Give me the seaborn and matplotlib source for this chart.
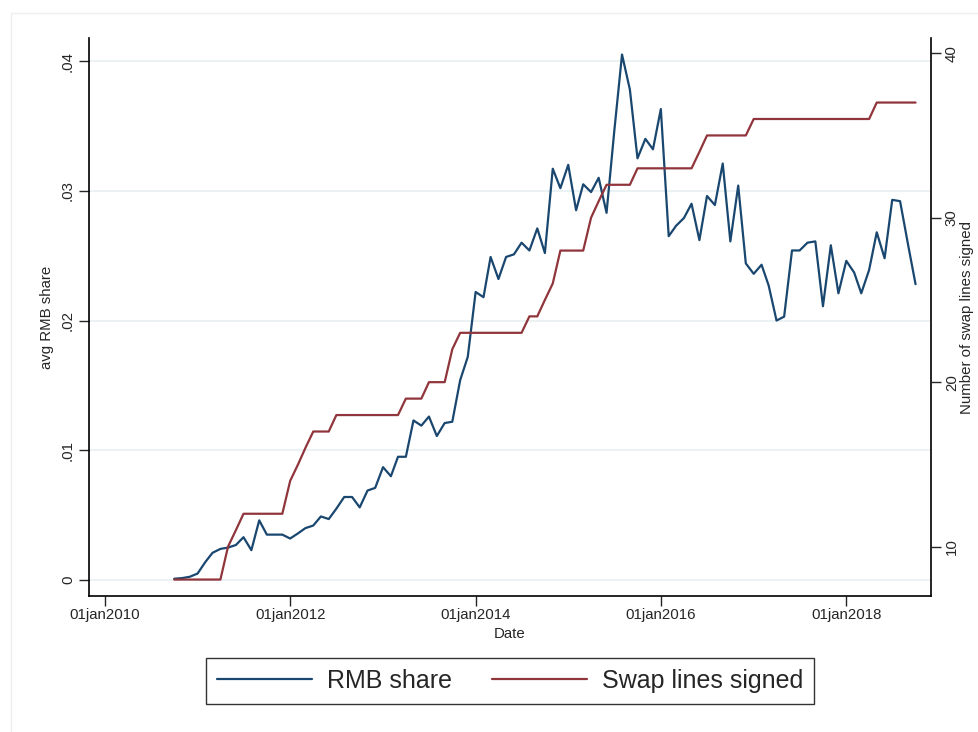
import pandas as pd
import seaborn as sns
import matplotlib.pyplot as plt
from matplotlib.lines import Line2D

# monthly data, Oct 2010 - Oct 2018
months = pd.date_range('2010-10-01', '2018-10-01', freq='MS')

rmb_share = [0.0001, 0.00015, 0.00025, 0.0005, 0.0014, 0.0021, 0.0024, 0.0025, 0.0027, 0.0033,
             0.0023, 0.0046, 0.0035, 0.0035, 0.0035, 0.0032, 0.0036, 0.0040, 0.0042, 0.0049,
             0.0047, 0.0055, 0.0064, 0.0064, 0.0056, 0.0069, 0.0071, 0.0087, 0.0080, 0.0095,
             0.0095, 0.0123, 0.0119, 0.0126, 0.0111, 0.0121, 0.0122, 0.0154, 0.0172, 0.0222,
             0.0218, 0.0249, 0.0232, 0.0249, 0.0251, 0.0260, 0.0254, 0.0271, 0.0252, 0.0317,
             0.0302, 0.0320, 0.0285, 0.0305, 0.0299, 0.0310, 0.0283, 0.0345, 0.0405, 0.0378,
             0.0325, 0.0340, 0.0332, 0.0363, 0.0265, 0.0273, 0.0279, 0.0290, 0.0262, 0.0296,
             0.0289, 0.0321, 0.0261, 0.0304, 0.0244, 0.0236, 0.0243, 0.0227, 0.0200, 0.0203,
             0.0254, 0.0254, 0.0260, 0.0261, 0.0211, 0.0258, 0.0221, 0.0246, 0.0237, 0.0221,
             0.0239, 0.0268, 0.0248, 0.0293, 0.0292, 0.0259, 0.0228]

swap_lines = [8, 8, 8, 8, 8, 8, 8, 10, 11, 12,
              12, 12, 12, 12, 12, 14, 15, 16, 17, 17,
              17, 18, 18, 18, 18, 18, 18, 18, 18, 18,
              19, 19, 19, 20, 20, 20, 22, 23, 23, 23,
              23, 23, 23, 23, 23, 23, 24, 24, 25, 26,
              28, 28, 28, 28, 30, 31, 32, 32, 32, 32,
              33, 33, 33, 33, 33, 33, 33, 33, 34, 35,
              35, 35, 35, 35, 35, 36, 36, 36, 36, 36,
              36, 36, 36, 36, 36, 36, 36, 36, 36, 36,
              36, 37, 37, 37, 37, 37, 37]

left_ticks = [0, 0.01, 0.02, 0.03, 0.04]
left_labels = ['0', '.01', '.02', '.03', '.04']
right_ticks = [10, 20, 30, 40]
date_ticks = ['2010-01-01', '2012-01-01', '2014-01-01', '2016-01-01', '2018-01-01']
date_labels = ['01jan2010', '01jan2012', '01jan2014', '01jan2016', '01jan2018']

df = pd.DataFrame({'date': months, 'rmb': rmb_share, 'swap': swap_lines})

navy = '#1a476f'
maroon = '#90353b'
fs = 10.8

sns.set_style('white')
plt.rcParams['font.family'] = ['Liberation Sans', 'DejaVu Sans']

fig = plt.figure(figsize=(9.79, 7.32), dpi=100)
ax = fig.add_axes([0.0909, 0.1858, 0.8601, 0.7622])
ax2 = ax.twinx()

sns.lineplot(data=df, x='date', y='rmb', ax=ax, color=navy, linewidth=1.6, legend=False)
sns.lineplot(data=df, x='date', y='swap', ax=ax2, color=maroon, linewidth=1.6, legend=False)

ax.set_xlim(pd.Timestamp('2009-10-30'), pd.Timestamp('2018-12-01'))
ax.set_ylim(-0.00123, 0.04177)
ax2.set_ylim(7.0, 40.92)

for t in left_ticks:
    ax.axhline(t, color='#eaf2f3', linewidth=1.4, zorder=0)

ax.set_yticks(left_ticks)
ax.set_yticklabels(left_labels)
ax2.set_yticks(right_ticks)
ax.set_xticks([pd.Timestamp(d) for d in date_ticks])
ax.set_xticklabels(date_labels)

ax.tick_params(axis='y', labelrotation=90, labelsize=fs, length=7, width=1, left=True, pad=3)
ax2.tick_params(axis='y', labelrotation=90, labelsize=fs, length=7, width=1, right=True, pad=3)
ax.tick_params(axis='x', labelsize=fs, length=7, width=1, bottom=True, pad=2)
for lab in ax.get_yticklabels() + ax2.get_yticklabels():
    lab.set_verticalalignment('center')

ax.set_xlabel('Date', fontsize=fs, labelpad=3)
ax.set_ylabel('avg RMB share', fontsize=fs, labelpad=5)
ax2.set_ylabel('Number of swap lines signed', fontsize=fs, rotation=90, labelpad=1)

for a in (ax, ax2):
    a.spines['top'].set_visible(False)
    for s in ('left', 'right', 'bottom'):
        a.spines[s].set_color('black')
        a.spines[s].set_linewidth(1.2)
ax.spines['right'].set_visible(False)
ax2.spines['left'].set_visible(False)
ax2.spines['bottom'].set_visible(False)

handles = [Line2D([], [], color=navy, linewidth=1.6), Line2D([], [], color=maroon, linewidth=1.6)]
leg = fig.legend(handles, ['RMB share', 'Swap lines signed'], loc='center',
                 bbox_to_anchor=(0.521, 0.0697), ncol=2, fontsize=18, frameon=True,
                 fancybox=False, edgecolor='black', handlelength=3.8, handletextpad=0.6,
                 columnspacing=1.6, borderpad=0.45, borderaxespad=0)
leg.get_frame().set_linewidth(1.0)

# faint outer graph region lines
fig.add_artist(Line2D([11 / 979, 11 / 979], [0, 1 - 13 / 732], color='#efefef', linewidth=1))
fig.add_artist(Line2D([11 / 979, 1], [1 - 13 / 732, 1 - 13 / 732], color='#efefef', linewidth=1))

fig.savefig('out.png', dpi=100)
